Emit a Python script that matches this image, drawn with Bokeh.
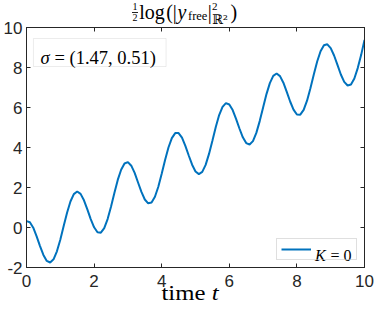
from bokeh.plotting import figure
from bokeh.layouts import column
from bokeh.models import (Range1d, FixedTicker, LinearAxis, Label, BoxAnnotation,
                          Legend, LegendItem, Div)
from bokeh.embed import file_html
from bokeh.resources import INLINE

# ---------------- data ----------------
T = [0.0, 0.1, 0.2, 0.3, 0.4, 0.5, 0.6, 0.7, 0.8, 0.9,
     1.0, 1.1, 1.2, 1.3, 1.4, 1.5, 1.6, 1.7, 1.8, 1.9,
     2.0, 2.1, 2.2, 2.3, 2.4, 2.5, 2.6, 2.7, 2.8, 2.9,
     3.0, 3.1, 3.2, 3.3, 3.4, 3.5, 3.6, 3.7, 3.8, 3.9,
     4.0, 4.1, 4.2, 4.3, 4.4, 4.5, 4.6, 4.7, 4.8, 4.9,
     5.0, 5.1, 5.2, 5.3, 5.4, 5.5, 5.6, 5.7, 5.8, 5.9,
     6.0, 6.1, 6.2, 6.3, 6.4, 6.5, 6.6, 6.7, 6.8, 6.9,
     7.0, 7.1, 7.2, 7.3, 7.4, 7.5, 7.6, 7.7, 7.8, 7.9,
     8.0, 8.1, 8.2, 8.3, 8.4, 8.5, 8.6, 8.7, 8.8, 8.9,
     9.0, 9.1, 9.2, 9.3, 9.4, 9.5, 9.6, 9.7, 9.8, 9.9,
     10.0]
Y_K0 = [0.32, 0.26, -0.01, -0.44, -0.93, -1.37, -1.67, -1.75, -1.59, -1.19,
        -0.61, 0.07, 0.74, 1.30, 1.67, 1.80, 1.68, 1.36, 0.91, 0.42,
        0.01, -0.24, -0.26, -0.03, 0.42, 1.04, 1.73, 2.38, 2.89, 3.20,
        3.27, 3.09, 2.73, 2.25, 1.78, 1.40, 1.21, 1.25, 1.54, 2.04,
        2.69, 3.38, 4.00, 4.47, 4.72, 4.72, 4.49, 4.08, 3.60, 3.14,
        2.80, 2.67, 2.78, 3.13, 3.68, 4.34, 5.02, 5.62, 6.03, 6.22,
        6.15, 5.87, 5.43, 4.95, 4.51, 4.22, 4.15, 4.32, 4.73, 5.32,
        6.00, 6.67, 7.22, 7.58, 7.70, 7.57, 7.24, 6.78, 6.30, 5.89,
        5.65, 5.64, 5.88, 6.34, 6.96, 7.65, 8.30, 8.81, 9.11, 9.16,
        8.97, 8.60, 8.13, 7.65, 7.28, 7.10, 7.15, 7.45, 7.97, 8.62,
        9.38]
SERIES_VAR = "K"
SERIES_REST = "= 0"
SIGMA_VAR = "σ"
SIGMA_TEXT = "= (1.47, 0.51)"
X_TICKS = [0, 2, 4, 6, 8, 10]
X_TICK_LABELS = ["0", "2", "4", "6", "8", "10"]
Y_TICKS = [-2, 0, 2, 4, 6, 8, 10]
Y_TICK_LABELS = ["-2", "0", "2", "4", "6", "8", "10"]

# ---------------- layout / style ----------------
W = 374
TITLE_H = 16
FT = 11                     # frame top inside figure  (page y = 27)
FB = FT + 240               # frame bottom (page y = 267)
FIG_H = FB + 27
XLAB_H = 312 - TITLE_H - FIG_H
FL, FR = 25, 364            # frame left/right
AX = "#262626"
BLUE = "#0072BD"
SERIF = "Liberation Serif"
SANS = "Liberation Sans"

p = figure(width=W, height=FIG_H, output_backend="svg", toolbar_location=None,
           x_range=Range1d(0, 10), y_range=Range1d(-2, 10),
           min_border_left=FL, min_border_right=W - FR,
           min_border_top=FT, min_border_bottom=FIG_H - FB)
p.title.visible = False
p.grid.visible = False
p.outline_line_color = AX
p.background_fill_color = "white"
p.border_fill_alpha = 0


def style_axis(ax, ticks, labels, show):
    ax.ticker = FixedTicker(ticks=ticks)
    ax.axis_line_color = AX
    ax.major_tick_line_color = AX
    ax.major_tick_in = 4
    ax.major_tick_out = 0
    ax.minor_tick_line_color = None
    ax.major_label_text_color = AX
    ax.major_label_text_font = SANS
    if show:
        ax.major_label_text_font_size = "17px"
        ax.major_label_overrides = {float(v): s for v, s in zip(ticks, labels)}
    else:
        ax.major_label_text_font_size = "0px"
        ax.major_label_overrides = {float(v): "" for v in ticks}
        ax.major_label_standoff = 0


style_axis(p.xaxis[0], X_TICKS, X_TICK_LABELS, True)
p.xaxis[0].major_label_standoff = 7
style_axis(p.yaxis[0], Y_TICKS, Y_TICK_LABELS, True)
p.yaxis[0].major_label_standoff = 4

top_ax = LinearAxis()
style_axis(top_ax, X_TICKS, X_TICK_LABELS, False)
p.add_layout(top_ax, "above")
right_ax = LinearAxis()
style_axis(right_ax, Y_TICKS, Y_TICK_LABELS, False)
p.add_layout(right_ax, "right")

r = p.line(T, Y_K0, line_width=2, line_color=BLUE)


# helpers: page pixel -> data coordinate (for text placement in the frame)
def dx(px):
    return (px - FL) / (FR - FL) * 10


def dy(py):
    return 10 - (py - TITLE_H - FT) / (FB - FT) * 12


def lab(px, py, text, size, style="normal"):
    p.add_layout(Label(x=dx(px), y=dy(py), text=text, text_font=SERIF,
                       text_font_size=f"{size}px", text_font_style=style,
                       text_color="black", text_align="left",
                       text_baseline="alphabetic", level="overlay"))


# ---- sigma annotation box ----
p.add_layout(BoxAnnotation(left=dx(32), right=dx(165), top=dy(38),
                           bottom=dy(66), fill_color="white", fill_alpha=1,
                           line_color="#bfbfbf", line_width=1))
lab(39, 57.3, SIGMA_VAR, 18.5, style="italic")
lab(53, 57.3, SIGMA_TEXT, 18.5)

# ---- legend (box + line sample by Bokeh, label text K = 0 laid over it) ----
legend = Legend(items=[LegendItem(label=" ", renderers=[r])],
                location="bottom_right", margin=7, padding=4, spacing=0,
                glyph_width=30, glyph_height=12, label_height=12,
                label_width=38, label_standoff=3, label_text_font=SERIF,
                label_text_font_size="8px", border_line_color="#bfbfbf",
                border_line_width=1, background_fill_alpha=0)
p.add_layout(legend)
lab(314.3, 254.5, SERIES_VAR, 16, style="italic")
lab(330, 254.5, SERIES_REST, 16)


# ---- HTML text pieces (title and x label) ----
def span(x, base, text, size, italic=False, font=SERIF, asc=0.8375,
         width=None, sx=None):
    top = base - asc * size
    st = (f"position:absolute;z-index:5;left:{x:.1f}px;top:{top:.1f}px;"
          f"font-family:'{font}';font-size:{size}px;line-height:{size}px;"
          "white-space:nowrap;color:#000;")
    if italic:
        st += "font-style:italic;"
    if width is not None:
        st += f"width:{width}px;text-align:center;"
    if sx is not None:
        st += f"transform:scaleX({sx});transform-origin:center;"
    return f'<span style="{st}">{text}</span>'


title_parts = [
    span(130, 10, "1", 10, width=10),
    '<div style="position:absolute;z-index:5;left:132px;top:11.6px;width:6px;'
    'height:1px;background:#222;"></div>',
    span(130, 21.2, "2", 10, width=10),
    span(139.3, 18.3, "log", 20),
    span(166.2, 18.3, "(|", 20),
    span(177.6, 18.3, "y", 20, italic=True),
    span(188, 20.8, "free", 12.5),
    span(207.8, 18.3, "|", 20),
    span(212, 10, "2", 11),
    span(212, 23.5, "ℝ²", 13, font="DejaVu Serif", asc=0.846),
    span(230.5, 18.3, ")", 20),
]
title_div = Div(text=f'<div style="position:relative;width:{W}px;height:{TITLE_H}px;">'
                + "".join(title_parts) + "</div>",
                width=W, height=TITLE_H, margin=0)

xlab_base = 301 - (TITLE_H + FIG_H)
xlab_div = Div(text=f'<div style="position:relative;width:{W}px;height:{XLAB_H}px;">'
               + span(150, xlab_base, "time <i>t</i>", 21, width=80, sx=1.18)
               + "</div>",
               width=W, height=XLAB_H, margin=0)

layout = column(title_div, p, xlab_div, spacing=0, margin=0)

open("out.html", "w", encoding="utf-8").write(file_html(layout, INLINE))
